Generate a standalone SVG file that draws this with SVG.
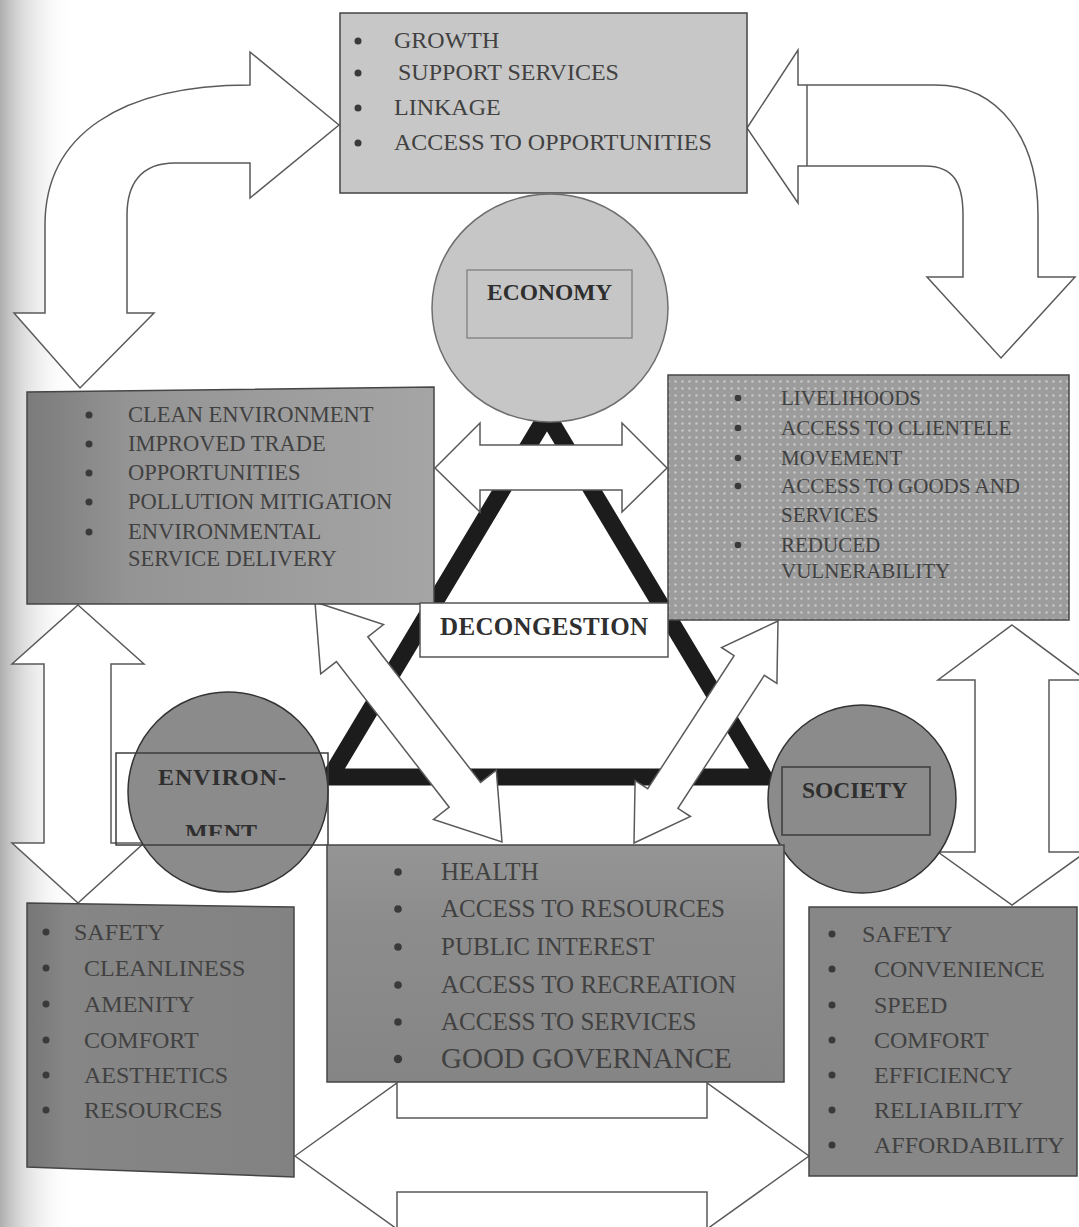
<svg xmlns="http://www.w3.org/2000/svg" width="1079" height="1227" viewBox="0 0 1079 1227">
<style>
.t{font-family:"Liberation Serif","Times New Roman",serif;fill:#414141}
.b{font-weight:bold;fill:#2f2f2f}
.box{stroke:#454545;stroke-width:1.5}
.arrow{fill:#fff;stroke:#5a5a5a;stroke-width:1.5;stroke-linejoin:miter}
.bul{fill:#3a3a3a}
.frame{fill:none;stroke:#3c3c3c;stroke-width:1.5}
</style>
<defs>
<linearGradient id="vig" x1="0" y1="0" x2="1" y2="0">
<stop offset="0" stop-color="#9a9a9a" stop-opacity="0.8"/>
<stop offset="0.35" stop-color="#bdbdbd" stop-opacity="0.45"/>
<stop offset="1" stop-color="#ffffff" stop-opacity="0"/>
</linearGradient>
<linearGradient id="envg" x1="0" y1="0" x2="1" y2="0">
<stop offset="0" stop-color="#7b7b7b"/>
<stop offset="0.25" stop-color="#949494"/>
<stop offset="1" stop-color="#a5a5a5"/>
</linearGradient>
<linearGradient id="healthg" x1="0" y1="0" x2="0" y2="1">
<stop offset="0" stop-color="#959595"/>
<stop offset="0.3" stop-color="#8d8d8d"/>
<stop offset="1" stop-color="#858585"/>
</linearGradient>
<linearGradient id="lowg" x1="0" y1="0" x2="1" y2="0">
<stop offset="0" stop-color="#767676"/>
<stop offset="0.15" stop-color="#868686"/>
<stop offset="1" stop-color="#828282"/>
</linearGradient>
<pattern id="dots" width="7" height="7" patternUnits="userSpaceOnUse">
<rect width="7" height="7" fill="#9c9c9c"/>
<circle cx="3.5" cy="3.5" r="1.3" fill="#c6c6c6"/>
</pattern>
<clipPath id="mentclip"><rect x="110" y="740" width="230" height="96"/></clipPath>
</defs>

<rect width="1079" height="1227" fill="#ffffff"/>
<rect x="0" y="0" width="75" height="1227" fill="url(#vig)"/>

<g id="triangle">
<polygon points="547,415 764,777 330,777" fill="none" stroke="#1c1c1c" stroke-width="17" stroke-linejoin="miter"/>
</g>

<g id="connectors">
<path class="arrow" d="M339,125 L250,52 L250,85 C120,85 45,135 45,225 L45,313 L14,313 L80,388 L154,313 L127,313 L127,215 C127,185 140,163 175,163 L250,163 L250,198 Z"/>
<path class="arrow" d="M747,128 L798,50 L798,85 L935,85 C1000,85 1038,140 1038,215 L1038,277 L1075,277 L1001,358 L927,277 L963,277 L963,215 C963,185 955,166 925,166 L798,166 L798,203 Z"/>
<path d="M807,85 V166" fill="none" stroke="#5a5a5a" stroke-width="1.5"/>
<path class="arrow" d="M435,468 L480,423 L480,445 L622,445 L622,423 L667,468 L622,512 L622,490 L480,490 L480,512 Z"/>
<polygon class="arrow" points="315,602 383.5,624.5 367.8,636.8 480.6,782.4 496.3,770.1 502,842 433.5,819.5 449.2,807.2 336.4,661.6 320.7,673.9"/>
<polygon class="arrow" points="778,621 776.9,683.5 764.3,675.3 677.9,808.3 690.5,816.5 634,843 635.1,780.5 647.7,788.7 734.1,655.7 721.5,647.5"/>
<path class="arrow" d="M78,605 L144,664 L111,664 L111,843 L144,843 L78,903 L12,843 L44,843 L44,664 L12,664 Z"/>
<path class="arrow" d="M1012,625 L1086,680 L1049,680 L1049,852 L1086,852 L1012,905 L938,852 L975,852 L975,680 L938,680 Z"/>
<path class="arrow" d="M295,1156 L397,1083 L397,1118 L707,1118 L707,1083 L809,1156 L707,1229 L707,1192 L397,1192 L397,1229 Z"/>
</g>

<g id="economy-benefits">
<rect class="box" x="340" y="13" width="407" height="180" fill="#c7c7c7"/>
<circle class="bul" cx="358" cy="41" r="3.5"/>
<circle class="bul" cx="358" cy="73" r="3.5"/>
<circle class="bul" cx="358" cy="108" r="3.5"/>
<circle class="bul" cx="358" cy="143" r="3.5"/>
<text class="t" font-size="24" x="394" y="48">GROWTH</text>
<text class="t" font-size="24" x="398" y="80">SUPPORT SERVICES</text>
<text class="t" font-size="24" x="394" y="115">LINKAGE</text>
<text class="t" font-size="24" x="394" y="150">ACCESS TO OPPORTUNITIES</text>
</g>

<g id="economy">
<ellipse cx="550" cy="308" rx="118" ry="114" fill="#c6c6c6" stroke="#6e6e6e" stroke-width="1.5"/>
<rect x="467" y="270" width="165" height="68" fill="none" stroke="#7a7a7a" stroke-width="1.2"/>
<text class="t b" font-size="23.5" x="487" y="300">ECONOMY</text>
</g>

<g id="economy-environment">
<polygon class="box" points="27,392 434,387 434,604 27,604" fill="url(#envg)"/>
<circle class="bul" cx="89" cy="415" r="3.5"/>
<circle class="bul" cx="89" cy="444" r="3.5"/>
<circle class="bul" cx="89" cy="473" r="3.5"/>
<circle class="bul" cx="89" cy="502" r="3.5"/>
<circle class="bul" cx="89" cy="532" r="3.5"/>
<text class="t" font-size="22.5" x="128" y="422">CLEAN ENVIRONMENT</text>
<text class="t" font-size="22.5" x="128" y="451">IMPROVED TRADE</text>
<text class="t" font-size="22.5" x="128" y="480">OPPORTUNITIES</text>
<text class="t" font-size="22.5" x="128" y="509">POLLUTION MITIGATION</text>
<text class="t" font-size="22.5" x="128" y="539">ENVIRONMENTAL</text>
<text class="t" font-size="22.5" x="128" y="566">SERVICE DELIVERY</text>
</g>

<g id="economy-society">
<rect class="box" x="668" y="375" width="401" height="245" fill="url(#dots)"/>
<circle class="bul" cx="738" cy="398" r="3.3"/>
<circle class="bul" cx="738" cy="428" r="3.3"/>
<circle class="bul" cx="738" cy="458" r="3.3"/>
<circle class="bul" cx="738" cy="486" r="3.3"/>
<circle class="bul" cx="738" cy="545" r="3.3"/>
<text class="t" font-size="21" x="781" y="405">LIVELIHOODS</text>
<text class="t" font-size="21" x="781" y="435">ACCESS TO CLIENTELE</text>
<text class="t" font-size="21" x="781" y="465">MOVEMENT</text>
<text class="t" font-size="21" x="781" y="493">ACCESS TO GOODS AND</text>
<text class="t" font-size="21" x="781" y="522">SERVICES</text>
<text class="t" font-size="21" x="781" y="552">REDUCED</text>
<text class="t" font-size="21" x="781" y="578">VULNERABILITY</text>
</g>

<g id="decongestion">
<rect x="420" y="603" width="248" height="54" fill="#ffffff" stroke="#555" stroke-width="1.5"/>
<text class="t b" font-size="25" x="440" y="635" textLength="208">DECONGESTION</text>
</g>

<g id="environment">
<circle cx="228" cy="792" r="100" fill="#8b8b8b" stroke="#333" stroke-width="1.5"/>
<rect class="frame" x="116" y="753" width="212" height="92"/>
<text class="t b" font-size="24" x="158" y="785" textLength="128">ENVIRON-</text>
<text class="t b" font-size="24" x="185" y="840" clip-path="url(#mentclip)">MENT</text>
</g>

<g id="society">
<circle cx="862" cy="799" r="94" fill="#8b8b8b" stroke="#333" stroke-width="1.5"/>
<rect class="frame" x="782" y="767" width="148" height="68"/>
<text class="t b" font-size="23.5" x="802" y="798">SOCIETY</text>
</g>

<g id="environment-society">
<rect class="box" x="327" y="845" width="457" height="237" fill="url(#healthg)"/>
<circle class="bul" cx="398" cy="872" r="3.8"/>
<circle class="bul" cx="398" cy="909" r="3.8"/>
<circle class="bul" cx="398" cy="947" r="3.8"/>
<circle class="bul" cx="398" cy="985" r="3.8"/>
<circle class="bul" cx="398" cy="1022" r="3.8"/>
<circle class="bul" cx="398" cy="1059" r="4.2"/>
<text class="t" font-size="25" x="441" y="880">HEALTH</text>
<text class="t" font-size="25" x="441" y="917">ACCESS TO RESOURCES</text>
<text class="t" font-size="25" x="441" y="955">PUBLIC INTEREST</text>
<text class="t" font-size="25" x="441" y="993">ACCESS TO RECREATION</text>
<text class="t" font-size="25" x="441" y="1030">ACCESS TO SERVICES</text>
<text class="t" font-size="29" x="441" y="1068">GOOD GOVERNANCE</text>
</g>

<g id="environment-qualities">
<polygon class="box" points="27,903 294,907 294,1177 27,1167" fill="url(#lowg)"/>
<circle class="bul" cx="46" cy="932" r="3.5"/>
<circle class="bul" cx="46" cy="968" r="3.5"/>
<circle class="bul" cx="46" cy="1004" r="3.5"/>
<circle class="bul" cx="46" cy="1040" r="3.5"/>
<circle class="bul" cx="46" cy="1075" r="3.5"/>
<circle class="bul" cx="46" cy="1110" r="3.5"/>
<text class="t" font-size="24" x="74" y="940">SAFETY</text>
<text class="t" font-size="24" x="84" y="976">CLEANLINESS</text>
<text class="t" font-size="24" x="84" y="1012">AMENITY</text>
<text class="t" font-size="24" x="84" y="1048">COMFORT</text>
<text class="t" font-size="24" x="84" y="1083">AESTHETICS</text>
<text class="t" font-size="24" x="84" y="1118">RESOURCES</text>
</g>

<g id="society-qualities">
<rect class="box" x="809" y="907" width="268" height="269" fill="#878787"/>
<circle class="bul" cx="832" cy="934" r="3.5"/>
<circle class="bul" cx="832" cy="969" r="3.5"/>
<circle class="bul" cx="832" cy="1005" r="3.5"/>
<circle class="bul" cx="832" cy="1040" r="3.5"/>
<circle class="bul" cx="832" cy="1075" r="3.5"/>
<circle class="bul" cx="832" cy="1110" r="3.5"/>
<circle class="bul" cx="832" cy="1145" r="3.5"/>
<text class="t" font-size="24" x="862" y="942">SAFETY</text>
<text class="t" font-size="24" x="874" y="977">CONVENIENCE</text>
<text class="t" font-size="24" x="874" y="1013">SPEED</text>
<text class="t" font-size="24" x="874" y="1048">COMFORT</text>
<text class="t" font-size="24" x="874" y="1083">EFFICIENCY</text>
<text class="t" font-size="24" x="874" y="1118">RELIABILITY</text>
<text class="t" font-size="24" x="874" y="1153">AFFORDABILITY</text>
</g>
</svg>
